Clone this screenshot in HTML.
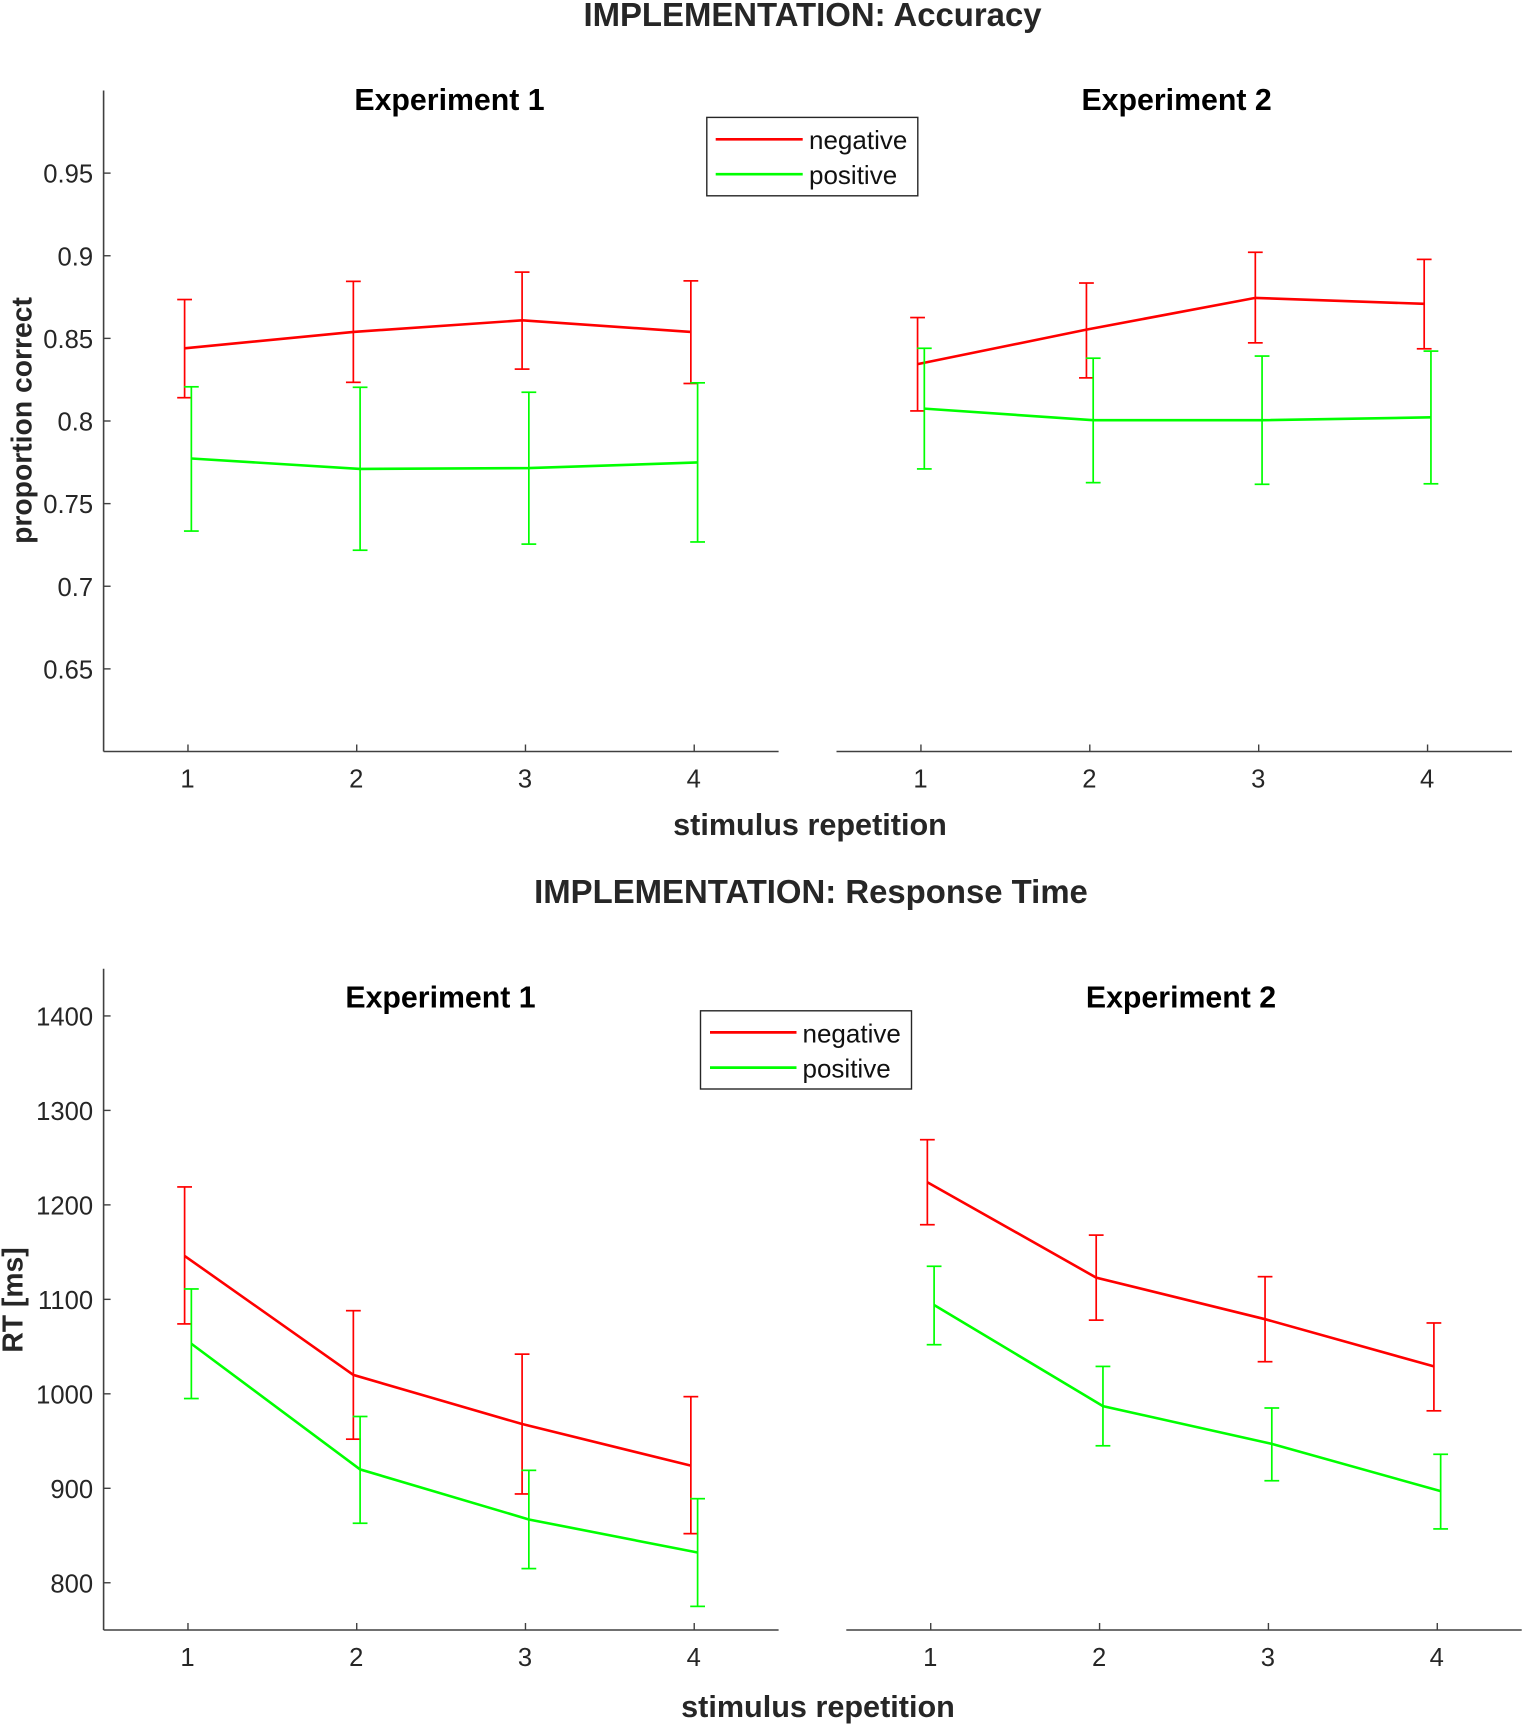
<!DOCTYPE html>
<html lang="en">
<head>
<meta charset="utf-8">
<title>IMPLEMENTATION: Accuracy and Response Time</title>
<style>
  html, body { margin: 0; padding: 0; background: #fff; }
  #chart { display: block; width: 1524px; height: 1725px; overflow: hidden; }
  text { font-family: "Liberation Sans", Arial, sans-serif; fill: #262626; }
  .main-title { font-size: 32.9px; font-weight: bold; text-anchor: middle; }
  .sub-title { font-size: 30.3px; font-weight: bold; text-anchor: middle; fill: #000; }
  .axis-title { font-size: 30.6px; font-weight: bold; text-anchor: middle; }
  .y-title { font-size: 28.3px; font-weight: bold; text-anchor: middle; }
  .tick-label { font-size: 25.6px; }
  .legend-label { font-size: 26px; fill: #111; }
</style>
</head>
<body>
<svg id="chart" xmlns="http://www.w3.org/2000/svg" width="1524" height="1725" viewBox="0 0 1524 1725">
  <rect x="0" y="0" width="1524" height="1725" fill="#fff"/>

  <text class="main-title" x="812.5" y="25.8">IMPLEMENTATION: Accuracy</text>
  <text class="main-title" x="811" y="903">IMPLEMENTATION: Response Time</text>

  <text class="sub-title" x="449.5" y="110">Experiment 1</text>
  <text class="sub-title" x="1176.6" y="110">Experiment 2</text>
  <text class="sub-title" x="440.5" y="1007.4">Experiment 1</text>
  <text class="sub-title" x="1181" y="1007.4">Experiment 2</text>

  <text class="axis-title" x="810" y="834.9">stimulus repetition</text>
  <text class="axis-title" x="818" y="1717">stimulus repetition</text>
  <text class="y-title" transform="translate(31.5 420.5) rotate(-90)">proportion correct</text>
  <text class="y-title" transform="translate(22.3 1300) rotate(-90)">RT [ms]</text>

  <g id="panels"></g>

  <g>
    <rect x="706.8" y="117.4" width="211" height="78.4" fill="#fff" stroke="#262626" stroke-width="1.4"/>
    <line x1="715.7" x2="802.7" y1="139.3" y2="139.3" stroke="#ff0000" stroke-width="2.7"/>
    <line x1="715.7" x2="802.7" y1="174.2" y2="174.2" stroke="#00ff00" stroke-width="2.7"/>
    <text class="legend-label" x="809" y="149.2">negative</text>
    <text class="legend-label" x="809" y="184.2">positive</text>
  </g>
  <g>
    <rect x="700.5" y="1010.8" width="211" height="78.2" fill="#fff" stroke="#262626" stroke-width="1.4"/>
    <line x1="710" x2="796.5" y1="1032.4" y2="1032.4" stroke="#ff0000" stroke-width="2.7"/>
    <line x1="710" x2="796.5" y1="1067.6" y2="1067.6" stroke="#00ff00" stroke-width="2.7"/>
    <text class="legend-label" x="802.5" y="1042.4">negative</text>
    <text class="legend-label" x="802.5" y="1077.4">positive</text>
  </g>
</svg>

<script>
// ---- Data ----
const repetitions = [1, 2, 3, 4];

const accuracyTicks = [0.65, 0.7, 0.75, 0.8, 0.85, 0.9, 0.95];
const accuracyTickLabels = ['0.65', '0.7', '0.75', '0.8', '0.85', '0.9', '0.95'];
const rtTicks = [800, 900, 1000, 1100, 1200, 1300, 1400];
const rtTickLabels = ['800', '900', '1000', '1100', '1200', '1300', '1400'];

const acc1NegMean = [0.8440, 0.8539, 0.8609, 0.8539];
const acc1NegUpper = [0.8735, 0.8845, 0.8901, 0.8848];
const acc1NegLower = [0.8141, 0.8234, 0.8314, 0.8227];
const acc1PosMean = [0.7773, 0.7710, 0.7715, 0.7749];
const acc1PosUpper = [0.8207, 0.8204, 0.8174, 0.8231];
const acc1PosLower = [0.7334, 0.7218, 0.7255, 0.7268];

const acc2NegMean = [0.8344, 0.8553, 0.8745, 0.8709];
const acc2NegUpper = [0.8626, 0.8835, 0.9021, 0.8978];
const acc2NegLower = [0.8061, 0.8261, 0.8473, 0.8437];
const acc2PosMean = [0.8075, 0.8005, 0.8005, 0.8022];
const acc2PosUpper = [0.8440, 0.8380, 0.8393, 0.8423];
const acc2PosLower = [0.7710, 0.7627, 0.7617, 0.7620];

const rt1NegMean = [1146, 1020, 968, 924];
const rt1NegUpper = [1219, 1088, 1042, 997];
const rt1NegLower = [1074, 952, 894, 852];
const rt1PosMean = [1053, 920, 867, 832];
const rt1PosUpper = [1111, 976, 919, 889];
const rt1PosLower = [995, 863, 815, 775];

const rt2NegMean = [1224, 1123, 1079, 1029];
const rt2NegUpper = [1269, 1168, 1124, 1075];
const rt2NegLower = [1179, 1078, 1034, 982];
const rt2PosMean = [1094, 987, 947, 897];
const rt2PosUpper = [1135, 1029, 985, 936];
const rt2PosLower = [1052, 945, 908, 857];

// ---- Layout and style ----
const SVG_NS = 'http://www.w3.org/2000/svg';
const RED = '#ff0000';
const GREEN = '#00ff00';
const AXIS_COLOR = '#404040';
const CAP_HALF = 7.4;
const TICK_LEN = 7;
const NEG_SHIFT = -0.02;
const POS_SHIFT = 0.02;

const root = document.getElementById('panels');

function makeScale(d0, d1, r0, r1) {
  return function (v) { return r0 + (v - d0) * (r1 - r0) / (d1 - d0); };
}

function lineEl(parent, x1, y1, x2, y2, color, width) {
  const el = document.createElementNS(SVG_NS, 'line');
  el.setAttribute('x1', x1);
  el.setAttribute('y1', y1);
  el.setAttribute('x2', x2);
  el.setAttribute('y2', y2);
  el.setAttribute('stroke', color);
  el.setAttribute('stroke-width', width);
  parent.appendChild(el);
  return el;
}

function textEl(parent, x, y, anchor, content) {
  const el = document.createElementNS(SVG_NS, 'text');
  el.setAttribute('class', 'tick-label');
  el.setAttribute('x', x);
  el.setAttribute('y', y);
  el.setAttribute('text-anchor', anchor);
  el.textContent = content;
  parent.appendChild(el);
  return el;
}

function drawSeries(parent, sx, sy, shift, mean, upper, lower, color, label) {
  const group = document.createElementNS(SVG_NS, 'g');
  
  
  parent.appendChild(group);

  repetitions.forEach(function (rep, i) {
    const x = sx(rep + shift);
    const stem = lineEl(group, x, sy(upper[i]), x, sy(lower[i]), color, 1.7);
    
    
    const capTop = lineEl(group, x - CAP_HALF, sy(upper[i]), x + CAP_HALF, sy(upper[i]), color, 1.7);
    
    
    const capBottom = lineEl(group, x - CAP_HALF, sy(lower[i]), x + CAP_HALF, sy(lower[i]), color, 1.7);
    
    
  });

  const path = document.createElementNS(SVG_NS, 'polyline');
  const pts = repetitions.map(function (rep, i) {
    return sx(rep + shift).toFixed(2) + ',' + sy(mean[i]).toFixed(2);
  });
  path.setAttribute('points', pts.join(' '));
  path.setAttribute('fill', 'none');
  path.setAttribute('stroke', color);
  path.setAttribute('stroke-width', '2.6');
  path.setAttribute('stroke-linejoin', 'miter');
  
  
  group.appendChild(path);
}

function drawPanel(cfg) {
  const g = document.createElementNS(SVG_NS, 'g');
  
  
  root.appendChild(g);

  const sx = makeScale(0.5, 4.5, cfg.left, cfg.right);
  const sy = makeScale(cfg.yMin, cfg.yMax, cfg.bottom, cfg.top);

  const xAxis = lineEl(g, cfg.left, cfg.bottom, cfg.right, cfg.bottom, AXIS_COLOR, 1.6);
  
  

  repetitions.forEach(function (rep) {
    const x = sx(rep);
    const tick = lineEl(g, x, cfg.bottom, x, cfg.bottom - TICK_LEN, AXIS_COLOR, 1.4);
    
    
    const label = textEl(g, x - 0.5, cfg.bottom + 36.2, 'middle', String(rep));
    
    
  });

  if (cfg.yAxis) {
    const yAxis = lineEl(g, cfg.left, cfg.top, cfg.left, cfg.bottom, AXIS_COLOR, 1.6);
    
    
    cfg.ticks.forEach(function (t, i) {
      const y = sy(t);
      const tick = lineEl(g, cfg.left, y, cfg.left + TICK_LEN, y, AXIS_COLOR, 1.4);
      
      
      const label = textEl(g, cfg.left - 10.5, y + 9.6, 'end', cfg.tickLabels[i]);
      
      
    });
  }

  drawSeries(g, sx, sy, NEG_SHIFT, cfg.negMean, cfg.negUpper, cfg.negLower, RED, cfg.name + '-negative');
  drawSeries(g, sx, sy, POS_SHIFT, cfg.posMean, cfg.posUpper, cfg.posLower, GREEN, cfg.name + '-positive');
}

drawPanel({
  name: 'accuracy-experiment-1', left: 103.6, right: 778.6, top: 90.5, bottom: 751.5,
  yMin: 0.6, yMax: 1.0, yAxis: true, ticks: accuracyTicks, tickLabels: accuracyTickLabels,
  negMean: acc1NegMean, negUpper: acc1NegUpper, negLower: acc1NegLower,
  posMean: acc1PosMean, posUpper: acc1PosUpper, posLower: acc1PosLower
});
drawPanel({
  name: 'accuracy-experiment-2', left: 836.5, right: 1512, top: 90.5, bottom: 751.5,
  yMin: 0.6, yMax: 1.0, yAxis: false,
  negMean: acc2NegMean, negUpper: acc2NegUpper, negLower: acc2NegLower,
  posMean: acc2PosMean, posUpper: acc2PosUpper, posLower: acc2PosLower
});
drawPanel({
  name: 'rt-experiment-1', left: 103.6, right: 778.6, top: 968.7, bottom: 1630,
  yMin: 750, yMax: 1450, yAxis: true, ticks: rtTicks, tickLabels: rtTickLabels,
  negMean: rt1NegMean, negUpper: rt1NegUpper, negLower: rt1NegLower,
  posMean: rt1PosMean, posUpper: rt1PosUpper, posLower: rt1PosLower
});
drawPanel({
  name: 'rt-experiment-2', left: 846.3, right: 1521.7, top: 968.7, bottom: 1630,
  yMin: 750, yMax: 1450, yAxis: false,
  negMean: rt2NegMean, negUpper: rt2NegUpper, negLower: rt2NegLower,
  posMean: rt2PosMean, posUpper: rt2PosUpper, posLower: rt2PosLower
});
</script>
</body>
</html>
